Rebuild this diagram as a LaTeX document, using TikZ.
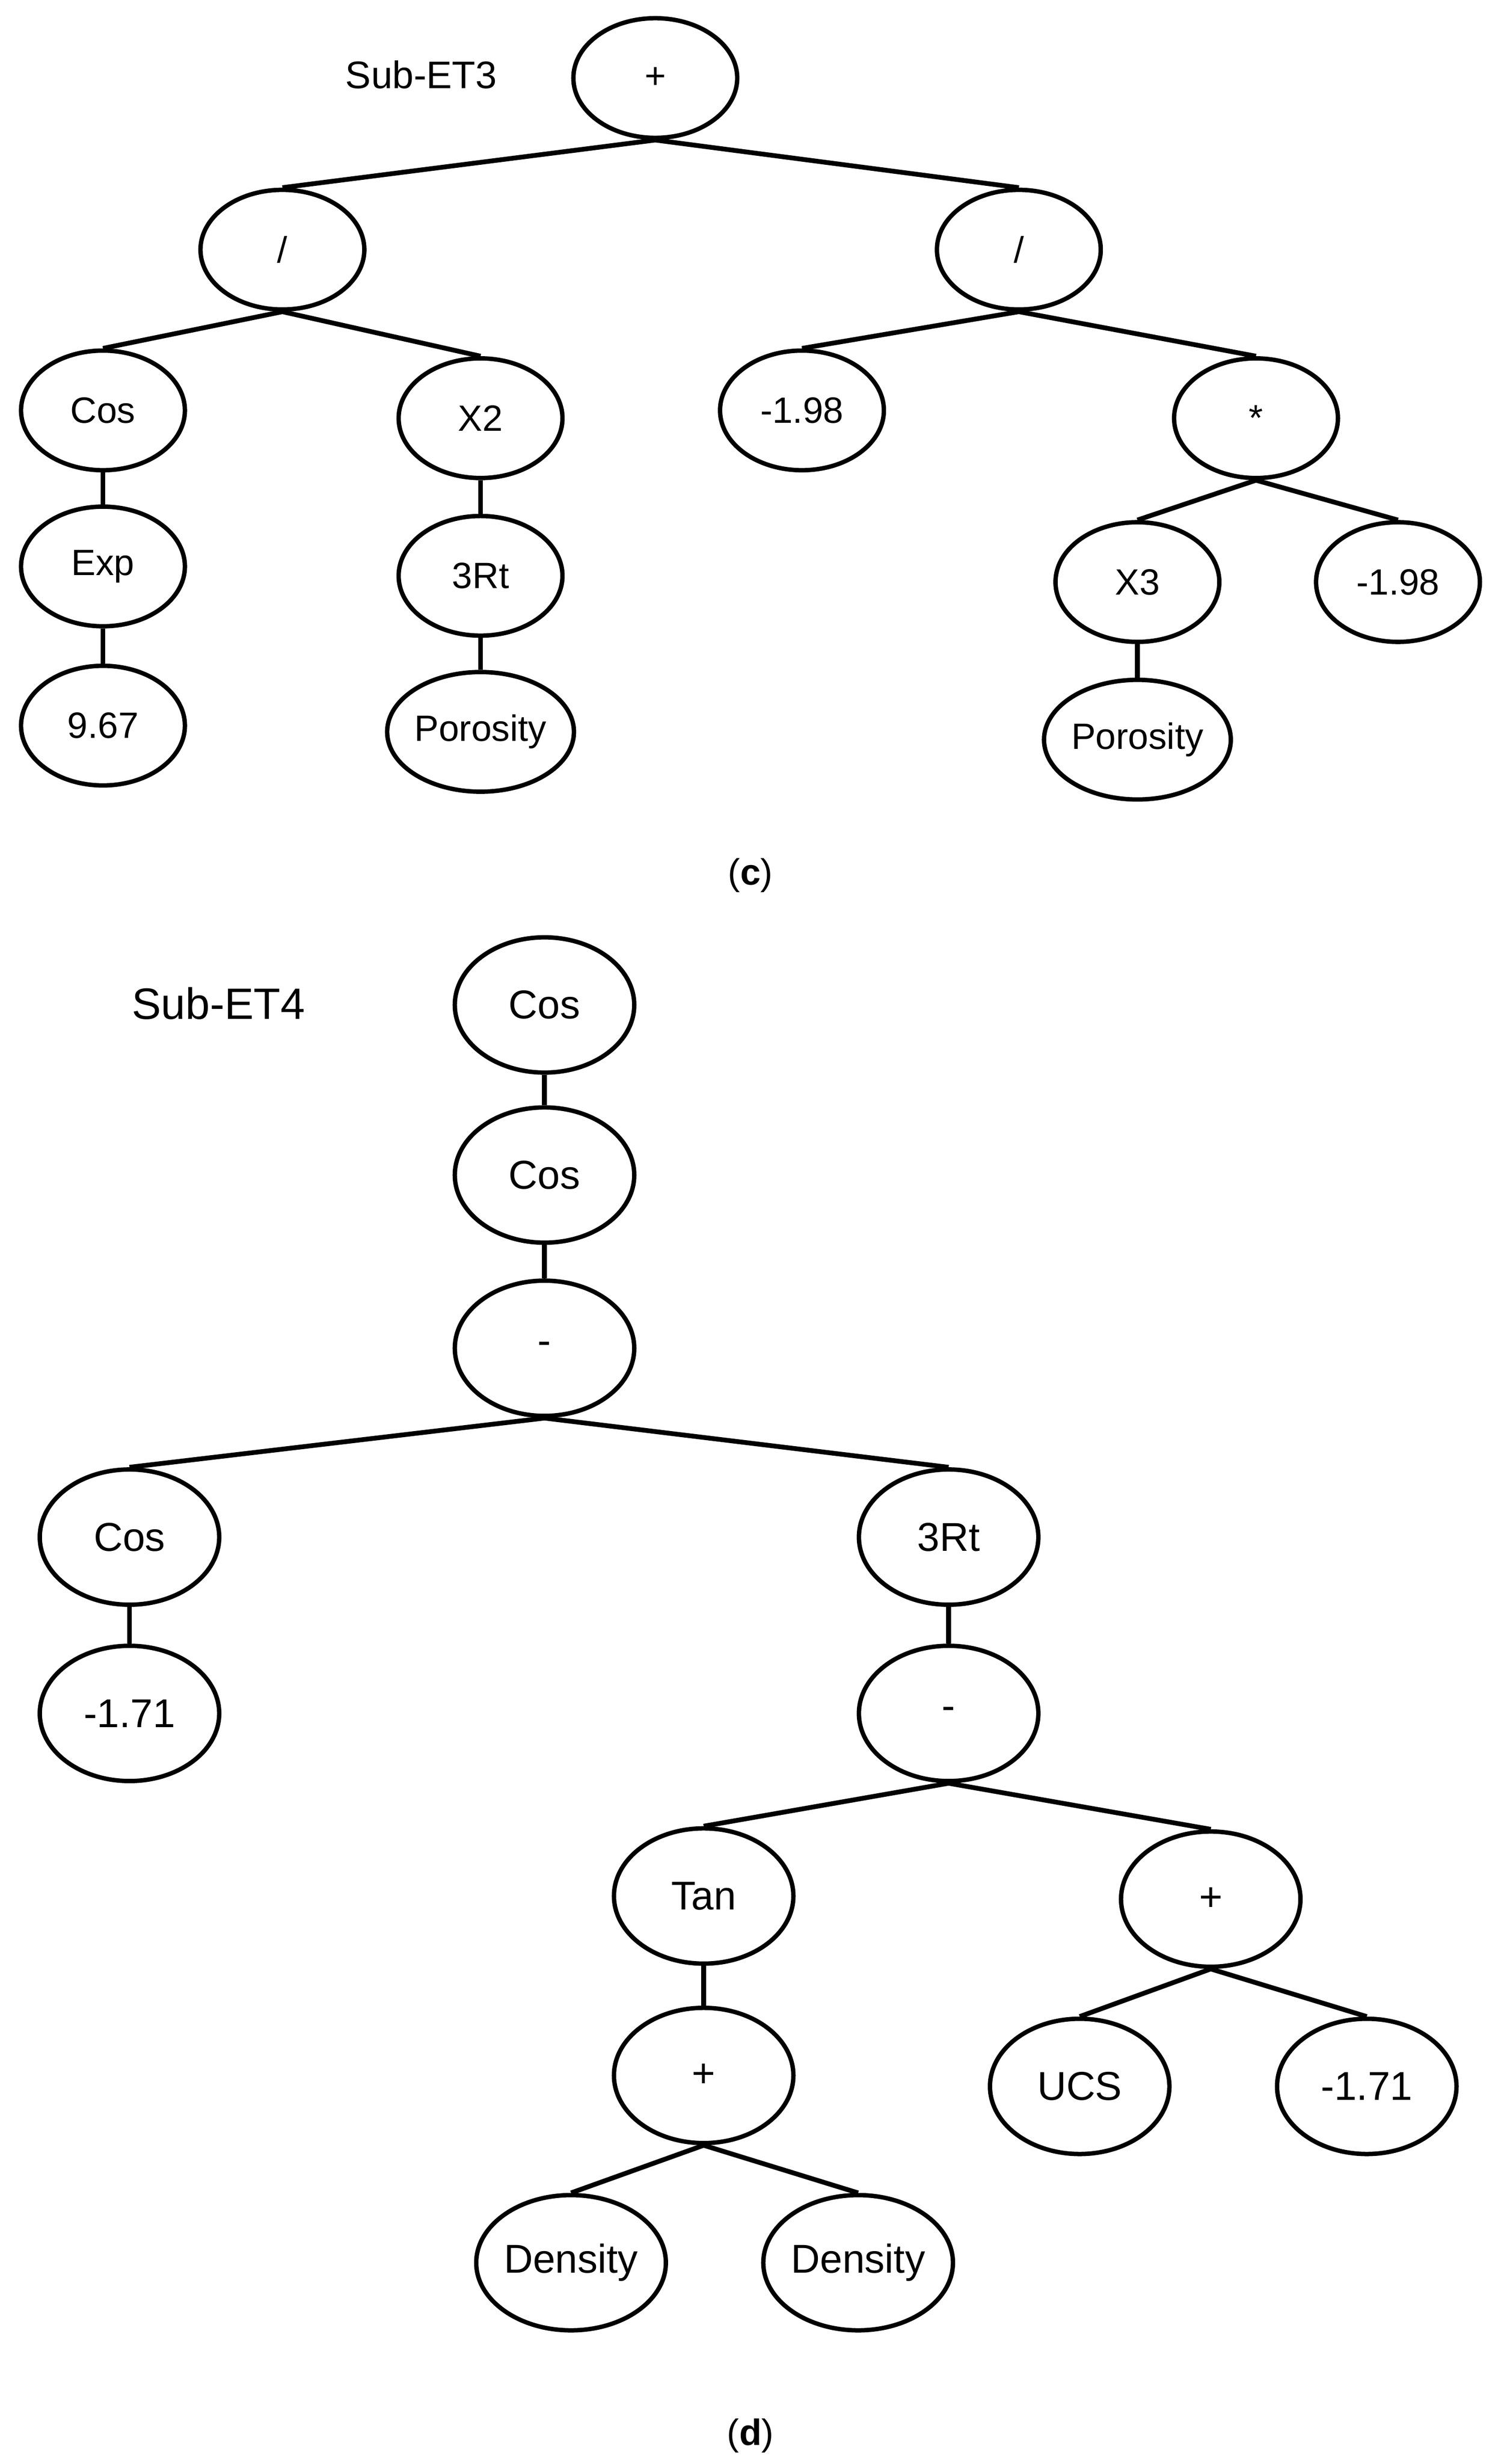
\documentclass[tikz,border=0pt]{standalone}
\usepackage{fontspec}
\setmainfont{Liberation Sans}
\usetikzlibrary{shapes.geometric}
\begin{document}
\begin{tikzpicture}[x=0.03cm,y=-0.03cm,
  nd/.style={draw, ellipse, line width=2.4pt, minimum width=3.15cm, minimum height=2.3cm, inner sep=0pt, font=\fontsize{20}{24}\selectfont},
  ndd/.style={nd, minimum width=3.45cm, minimum height=2.6cm, font=\fontsize{22}{26}\selectfont},
  ed/.style={line width=2.6pt}]
\useasboundingbox (0,0) rectangle (960,1579);
% (c)
\node at (270,48) {\fontsize{21}{25}\selectfont Sub-ET3};
\node (c0) [nd] at (420,50) {+};
\node (c1) [nd] at (181,160) {/};
\node (c2) [nd] at (653,160) {/};
\node (c3) [nd] at (66,263) {Cos};
\node (c4) [nd] at (308,268) {X2};
\node (c5) [nd] at (514,263) {-1.98};
\node (c6) [nd] at (805,268) {*};
\node (c7) [nd] at (66,363) {Exp};
\node (c8) [nd] at (308,369) {3Rt};
\node (c9) [nd] at (729,373) {X3};
\node (c10) [nd] at (896,373) {-1.98};
\node (c11) [nd] at (66,465) {9.67};
\node (c12) [nd] at (308,469) {Porosity};
\node (c13) [nd] at (729,474) {Porosity};
\foreach \a/\b in {c0/c1,c0/c2,c1/c3,c1/c4,c2/c5,c2/c6,c3/c7,c4/c8,c6/c9,c6/c10,c7/c11,c8/c12,c9/c13}
  \draw[ed] (\a.south) -- (\b.north);
\node (lc) at (481,561) {\fontsize{20}{24}\selectfont\rmfamily(\textbf{c})};
% (d)
\node at (140,643) {\fontsize{24}{28}\selectfont Sub-ET4};
\node (d0) [ndd] at (349,644) {Cos};
\node (d1) [ndd] at (349,753) {Cos};
\node (d2) [ndd] at (349,864) {-};
\node (d3) [ndd] at (83,985) {Cos};
\node (d4) [ndd] at (608,985) {3Rt};
\node (d5) [ndd] at (83,1098) {-1.71};
\node (d6) [ndd] at (608,1098) {-};
\node (d7) [ndd] at (451,1215) {Tan};
\node (d8) [ndd] at (776,1217) {+};
\node (d9) [ndd] at (451,1330) {+};
\node (d10) [ndd] at (692,1337) {UCS};
\node (d11) [ndd] at (876,1337) {-1.71};
\node (d12) [ndd] at (366,1450) {Density};
\node (d13) [ndd] at (550,1450) {Density};
\foreach \a/\b in {d0/d1,d1/d2,d2/d3,d2/d4,d3/d5,d4/d6,d6/d7,d6/d8,d7/d9,d8/d10,d8/d11,d9/d12,d9/d13}
  \draw[ed] (\a.south) -- (\b.north);
\node (ld) at (481,1561) {\fontsize{20}{24}\selectfont\rmfamily(\textbf{d})};
\end{tikzpicture}
\end{document}
